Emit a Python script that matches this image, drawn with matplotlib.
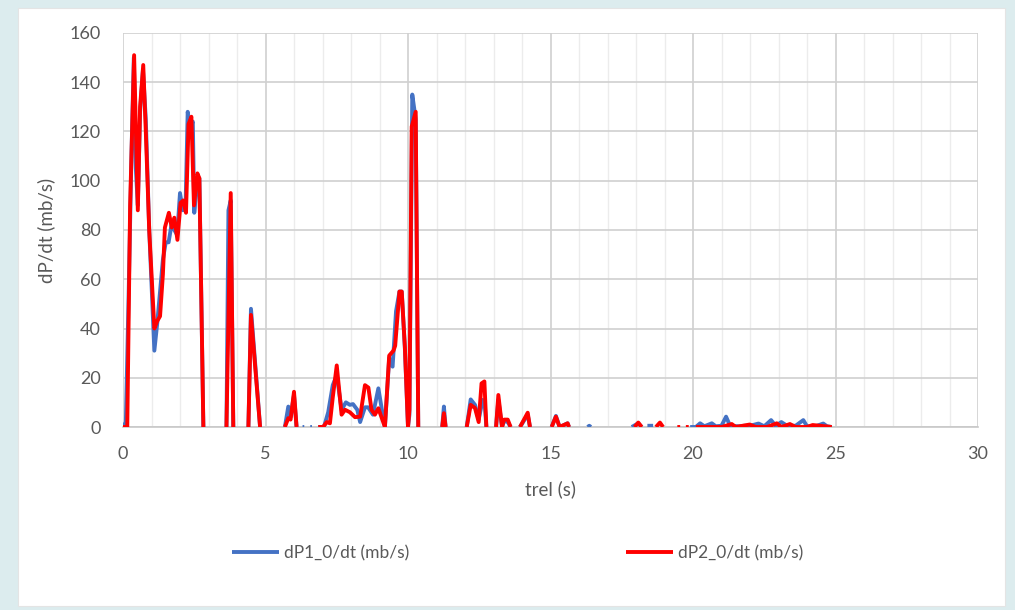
import numpy as np
import matplotlib
matplotlib.use('Agg')
import matplotlib.pyplot as plt
from matplotlib.patches import Rectangle
from matplotlib.ticker import MultipleLocator

nan = np.nan

# dP1_0/dt (blue)
t1 = [0.0, 0.1, 0.2, 0.3, 0.38, 0.45, 0.52, 0.6, 0.7, 0.8, 0.92, 1.1, 1.2, 1.3, 1.4, 1.5, 1.6, 1.7, 1.8, 1.9,
      2.0, 2.1, 2.2, 2.27, 2.35, 2.45, 2.5, 2.6, 2.68, 2.82, 2.9,
      3.63, 3.70, 3.78, 3.87, 3.9,
      4.40, 4.49, 4.81, 4.9,
      5.68, 5.80, 5.88, 6.0, 6.09, 6.2,
      6.30, 6.36, 6.4, 6.57, 6.63, 6.7,
      6.85, 7.05, 7.2, 7.36, 7.5, 7.67, 7.82, 7.96, 8.07, 8.22, 8.32, 8.49, 8.6, 8.77, 8.96, 9.07, 9.19,
      9.34, 9.46, 9.58, 9.7, 9.78, 9.89, 10.0, 10.05, 10.15, 10.27, 10.36, 10.4,
      11.2, 11.26, 11.32, 11.4,
      12.06, 12.2, 12.35, 12.48, 12.62, 12.7, 12.75, 12.8,
      13.09, 13.17, 13.3, 13.37, 13.5, 13.6, 13.7,
      13.93, 14.2, 14.28, 14.3,
      15.04, 15.19, 15.32, 15.51, 15.6, 15.65, 15.7,
      16.3, 16.36, 16.42, 16.5,
      17.85, 18.08, 18.2, 18.3, 18.4, 18.6, 18.7,
      19.9, 20.1, 20.25, 20.4, 20.66, 20.8, 21.0, 21.16, 21.3, 21.6, 21.8, 22.0, 22.3, 22.5, 22.74, 22.9,
      23.1, 23.3, 23.6, 23.87, 24.0, 24.3, 24.57, 24.7, 24.87]
v1 = [0, 2, 55, 112, 150, 105, 90, 128, 145, 125, 80, 31, 42, 55, 68, 75, 75, 82, 80, 78,
      95, 88, 92, 128, 122, 124, 87, 100, 101, 0, nan,
      0, 88, 92, 0, nan,
      0, 48, 0, nan,
      0, 8.3, 4, 13, 0, nan,
      0, 0, nan, 0, 0, nan,
      0, 0, 6, 17, 21, 7, 10, 9, 9.3, 7, 2, 8, 8, 5, 15.7, 8, 0,
      28, 24.5, 47, 55, 55, 32, 0, 5, 135, 125, 0, nan,
      0, 8.3, 0, nan,
      0, 11.2, 9, 3, 11, 8, 0, nan,
      0, 11, 0, 2.5, 2, 0, nan,
      0, 5, 0, nan,
      0, 4.5, 0, 1, 1.5, 0, nan,
      0, 0.5, 0, nan,
      0, 1.5, 0, nan, 0.5, 0.5, nan,
      0, 0, 1.5, 0.3, 1.5, 0.3, 0.5, 4.2, 0.5, 0.3, 0.5, 0.5, 1.4, 0.3, 2.8, 0.5,
      2, 0.5, 0.5, 2.8, 0.3, 0.3, 1.4, 0.3, 0]

# dP2_0/dt (red)
t2 = [0.0, 0.15, 0.25, 0.39, 0.52, 0.6, 0.71, 0.8, 0.92, 1.1, 1.2, 1.3, 1.4, 1.47, 1.61, 1.71, 1.8, 1.91,
      2.02, 2.11, 2.21, 2.30, 2.40, 2.49, 2.61, 2.68, 2.82, 2.9,
      3.63, 3.78, 3.87, 3.9,
      4.40, 4.49, 4.81, 4.9,
      5.68, 5.80, 5.88, 6.0, 6.09, 6.2,
      6.85, 7.02, 7.15, 7.26, 7.36, 7.5, 7.67, 7.79, 7.96, 8.14, 8.32, 8.49, 8.61, 8.72, 8.84, 8.96, 9.07, 9.19,
      9.34, 9.49, 9.55, 9.70, 9.78, 9.89, 10.0, 10.05, 10.13, 10.27, 10.36, 10.4,
      11.2, 11.26, 11.32, 11.4,
      12.06, 12.2, 12.35, 12.48, 12.58, 12.68, 12.75, 12.8,
      13.09, 13.17, 13.3, 13.37, 13.5, 13.6, 13.7,
      13.93, 14.2, 14.28, 14.3,
      15.04, 15.19, 15.32, 15.51, 15.6, 15.65, 15.7,
      17.95, 18.08, 18.2, 18.3, 18.7, 18.84, 18.95, 19.0, 19.45, 19.55, 19.6, 19.75, 19.85, 19.9,
      20.1, 20.5, 21.0, 21.36, 21.5, 21.99, 22.2, 22.6, 22.94, 23.1, 23.4, 23.6, 24.0, 24.2, 24.87]
v2 = [0, 0, 90, 151, 88, 130, 147, 120, 80, 40, 43, 45, 62, 81, 87, 81, 85, 76,
      91, 92, 87, 123, 126, 90, 103, 101, 0, nan,
      0, 95, 0, nan,
      0, 45.5, 0, nan,
      0, 3.6, 3, 14.3, 0, nan,
      0, 0, 2, 1.5, 12, 25, 5, 7, 6, 4, 4.2, 17, 16, 7, 5, 7.6, 4, 0,
      29, 31, 33, 55, 55, 32.6, 0, 7, 122, 128, 0, nan,
      0, 5.6, 0, nan,
      0, 9, 7.7, 2, 17.7, 18.5, 0, nan,
      0, 13, 0, 3, 3, 0, nan,
      0, 5.8, 0, nan,
      0, 4.2, 0, 1, 1.5, 0, nan,
      0, 1.8, 0, nan, 0, 1.8, 0, nan, 0, 0, nan, 0, 0, nan,
      0, 0, 0, 1.2, 0, 1, 0, 0, 1.5, 0, 1.2, 0, 0, 0.8, 0]

fig = plt.figure(figsize=(10.15, 6.1), dpi=100)
fig.patch.set_facecolor('#dcecee')
fig.patches.append(Rectangle((18 / 1015, 1 - 606 / 610), 987 / 1015, 598 / 610,
                             transform=fig.transFigure, facecolor='white',
                             edgecolor='#e4e4e4', lw=0.8, zorder=-10))

plt.rcParams['font.family'] = ['Lato', 'DejaVu Sans']

ax = fig.add_axes([123 / 1015, 1 - 427 / 610, 855 / 1015, 394 / 610])
ax.set_zorder(1)
ax.set_facecolor('white')
ax.plot(t1, v1, color='#4472c4', lw=2.8, label='dP1_0/dt (mb/s)', solid_capstyle='butt', zorder=3)
ax.plot(t2, v2, color='#ff0000', lw=2.8, label='dP2_0/dt (mb/s)', solid_capstyle='butt', zorder=4)

ax.set_xlim(0, 30)
ax.set_ylim(0, 160)
ax.xaxis.set_major_locator(MultipleLocator(5))
ax.xaxis.set_minor_locator(MultipleLocator(1))
ax.yaxis.set_major_locator(MultipleLocator(20))
ax.grid(which='major', color='#d0d0d0', lw=1.2)
ax.grid(which='minor', axis='x', color='#ececec', lw=1.0)
ax.set_axisbelow(True)
for s in ['top', 'right', 'left']:
    ax.spines[s].set_visible(False)
ax.spines['bottom'].set_color('#c8c8c8')
ax.spines['bottom'].set_linewidth(1.2)
ax.tick_params(which='both', length=0, labelsize=13, labelcolor='#595959')
ax.tick_params(axis='y', pad=16)
ax.tick_params(axis='x', pad=14)

ax.set_xlabel('trel (s)', fontsize=13.5, color='#595959', labelpad=13)
ax.set_ylabel('dP/dt (mb/s)', fontsize=13.5, color='#595959', labelpad=10)

fig.legend(loc='center', bbox_to_anchor=(0.51, 1 - 553 / 610), ncol=2, frameon=False,
           fontsize=12.5, labelcolor='#595959', handlelength=2.7, handletextpad=0.3,
           columnspacing=12.5)

fig.savefig('out.png', dpi=100, facecolor=fig.get_facecolor())
